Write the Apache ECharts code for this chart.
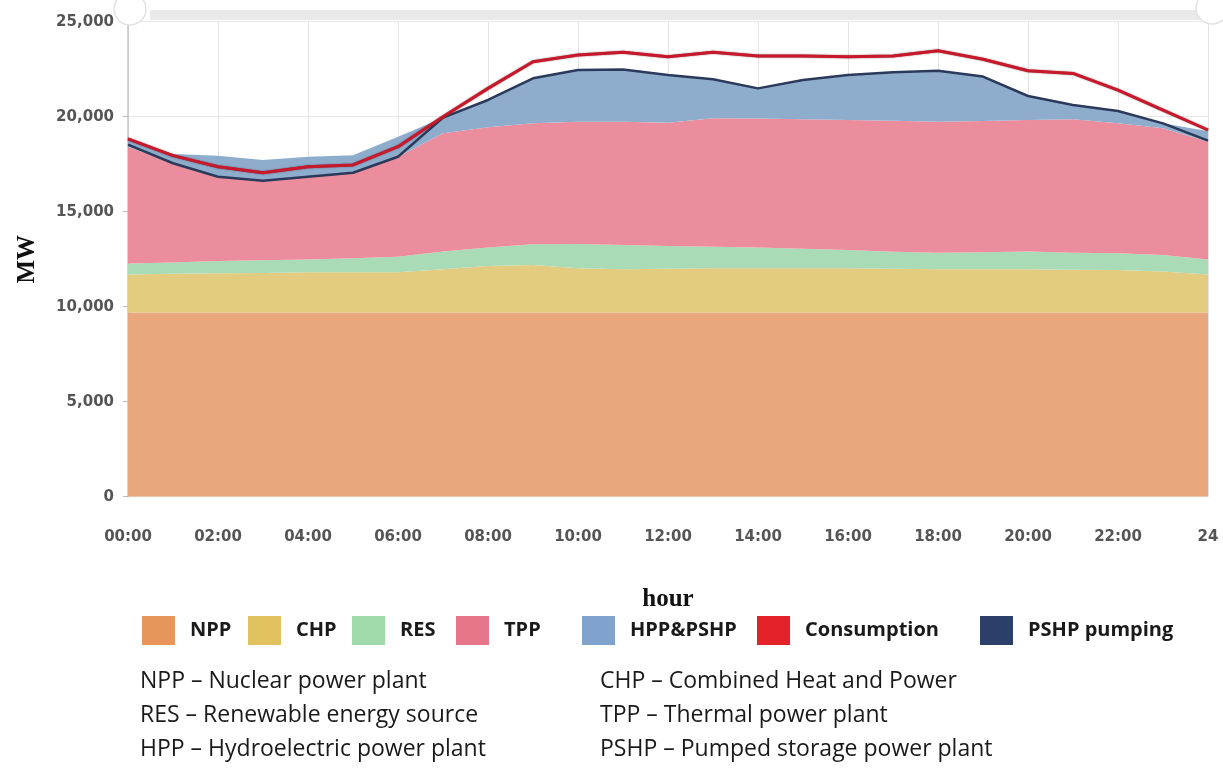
<!DOCTYPE html>
<html>
<head>
<meta charset="utf-8">
<script src="https://cdn.jsdelivr.net/npm/echarts@6/dist/echarts.min.js"></script>
<style>
html,body{margin:0;padding:0;background:#fff;}
#chart{width:1223px;height:771px;}
</style>
</head>
<body>
<div id="chart"></div>
<script>
const hours = ['00:00','01:00','02:00','03:00','04:00','05:00','06:00','07:00','08:00','09:00','10:00','11:00','12:00','13:00','14:00','15:00','16:00','17:00','18:00','19:00','20:00','21:00','22:00','23:00','24'];
const npp = [9700,9700,9700,9700,9700,9700,9700,9700,9700,9700,9700,9700,9700,9700,9700,9700,9700,9700,9700,9700,9700,9700,9700,9700,9700];
const chp = [2000,2030,2060,2080,2110,2110,2110,2270,2440,2500,2320,2270,2300,2320,2320,2320,2320,2300,2270,2270,2270,2250,2230,2150,2000];
const res = [580,590,650,670,680,740,820,930,980,1090,1280,1280,1190,1140,1100,1030,960,890,870,890,930,890,880,870,790];
const tpp = [6140,5230,4440,4180,4350,4500,5260,6230,6320,6370,6440,6490,6490,6760,6790,6810,6840,6900,6890,6910,6930,7020,6840,6670,6190];
const hpp = [380,490,1090,1090,1050,920,1060,820,1440,2370,2720,2760,2510,2050,1580,2070,2370,2550,2680,2330,1260,750,650,260,560];
const consumption = [18830,17950,17370,17050,17370,17460,18420,20000,21490,22890,23250,23390,23160,23390,23190,23190,23160,23190,23470,23020,22420,22280,21400,20350,19300];
const pumping = [18530,17550,16840,16630,16840,17050,17890,19950,20880,22020,22460,22490,22190,21970,21490,21930,22190,22340,22420,22110,21090,20620,20300,19650,18740];
const yTicks = [0,5000,10000,15000,20000,25000];
const legendNames = ['NPP','CHP','RES','TPP','HPP&PSHP','Consumption','PSHP pumping'];
const notes = [
  ['NPP \u2013 Nuclear power plant','CHP \u2013 Combined Heat and Power'],
  ['RES \u2013 Renewable energy source','TPP \u2013 Thermal power plant'],
  ['HPP \u2013 Hydroelectric power plant','PSHP \u2013 Pumped storage power plant']
];

const areaDefs = [
  {name:'NPP', data:npp, fill:'#e8a77d'},
  {name:'CHP', data:chp, fill:'#e3cb80'},
  {name:'RES', data:res, fill:'#a9dbb7'},
  {name:'TPP', data:tpp, fill:'#ec8d9d'},
  {name:'HPP&PSHP', data:hpp, fill:'#8eadcd'}
];
const legendColors = ['#e8955c','#e2c25e','#a0d9aa','#e8768b','#7fa3cd','#e4222a','#2b3f6a'];
const legendLeft = [137,243,347,451,577,752,975];

const chart = echarts.init(document.getElementById('chart'), null, {renderer:'canvas'});

const series = areaDefs.map(d => ({
  name:d.name, type:'line', stack:'gen', data:d.data, symbol:'none',
  lineStyle:{width:0, color:d.fill}, itemStyle:{color:d.fill},
  areaStyle:{color:d.fill, opacity:1}, z:2
}));
series.push({
  name:'PSHP pumping', type:'line', data:pumping, symbol:'none',
  lineStyle:{width:2.5, color:'#2b3a5a'}, itemStyle:{color:'#2b3f6a'}, z:4
});
series.push({
  name:'Consumption', type:'line', data:consumption, symbol:'none',
  lineStyle:{width:3, color:'#c8182c', shadowColor:'rgba(90,0,10,0.7)', shadowBlur:1.5}, itemStyle:{color:'#e4222a'}, z:5
});

const legends = legendNames.map((n, i) => ({
  data:[{name:n, itemStyle:{color:legendColors[i]}}],
  left:legendLeft[i], top:611, icon:'rect', itemWidth:33, itemHeight:29,
  textStyle:{fontFamily:'Open Sans', fontWeight:'bold', fontSize:20, color:'#1a1a1a', padding:[0,0,0,10]}
}));

const graphics = [
  {type:'rect', shape:{x:150, y:10, width:1060, height:10}, style:{fill:'#e9e9e9'}, z:0},
  {type:'circle', shape:{cx:130, cy:9, r:16}, style:{fill:'#fff', stroke:'#e2e2e2', lineWidth:1.5}, z:1},
  {type:'circle', shape:{cx:1212, cy:8, r:16}, style:{fill:'#fff', stroke:'#e2e2e2', lineWidth:1.5}, z:1}
];
notes.forEach((row, i) => {
  row.forEach((t, j) => {
    graphics.push({type:'text', left: j === 0 ? 140 : 600, top: 670 + i*34,
      style:{text:t, fill:'#1a1a1a', font:'23px "Open Sans"'}});
  });
});

chart.setOption({
  animation:false,
  backgroundColor:'#fff',
  grid:{left:128, right:15, top:21.7, bottom:274.3},
  legend:legends,
  xAxis:{
    type:'category', data:hours, boundaryGap:false,
    name:'hour', nameLocation:'middle', nameGap:90,
    nameTextStyle:{fontFamily:'Liberation Serif', fontWeight:'bold', fontSize:25, color:'#111'},
    axisLine:{show:false}, axisTick:{show:false},
    axisLabel:{interval:1, color:'#555', fontFamily:'DejaVu Sans', fontWeight:'bold', fontSize:15, margin:33},
    splitLine:{show:true, interval:1, lineStyle:{color:'#e4e4e4', width:1}}
  },
  yAxis:{
    type:'value', min:yTicks[0], max:yTicks[yTicks.length-1], interval:5000,
    name:'MW', nameLocation:'middle', nameGap:88, nameRotate:90,
    nameTextStyle:{fontFamily:'Liberation Serif', fontWeight:'bold', fontSize:25, color:'#111'},
    axisLine:{show:true, lineStyle:{color:'#c4c4c4', width:1.5}},
    axisTick:{show:true, length:5, lineStyle:{color:'#bbb'}},
    axisLabel:{color:'#555', fontFamily:'DejaVu Sans', fontWeight:'bold', fontSize:15, margin:14,
      formatter: v => v.toLocaleString('en-US')},
    splitLine:{show:true, lineStyle:{color:'#e8e8e8', width:1}}
  },
  graphic:graphics,
  series:series
});
</script>
</body>
</html>
